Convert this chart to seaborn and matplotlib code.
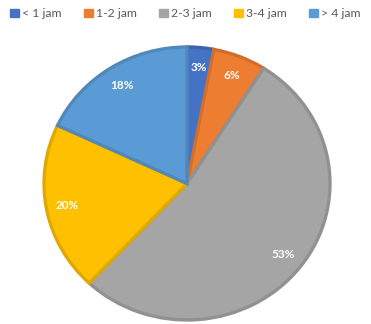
import matplotlib
matplotlib.use("Agg")
import matplotlib.pyplot as plt
import seaborn as sns
from matplotlib.patches import Patch
from matplotlib.colors import to_rgb

categories = ["< 1 jam", "1-2 jam", "2-3 jam", "3-4 jam", "> 4 jam"]
values = [3, 6, 53, 20, 18]
hex_colors = ["#4472C4", "#ED7D31", "#A5A5A5", "#FFC000", "#5B9BD5"]

sns.set_theme(style="white")
plt.rcParams['font.family'] = ['Lato', 'DejaVu Sans']

colors = sns.color_palette(hex_colors)
edges = [tuple(c * 0.88 for c in to_rgb(col)) for col in colors]

fig = plt.figure(figsize=(3.71, 3.24), dpi=100)
W, H = 371, 324
ax = fig.add_axes([44 / W, (H - 320) / H, (330 - 44) / W, (320 - 47) / H])

wedges, texts, autotexts = ax.pie(
    values, colors=colors, startangle=90, counterclock=False,
    autopct=lambda p: f"{p:.0f}%", pctdistance=0.85,
    wedgeprops=dict(linewidth=2.4), textprops=dict(color="white", fontsize=8.5, fontweight="bold"))
for w, e in zip(wedges, edges):
    w.set_edgecolor(e)
ax.set_aspect('auto')
ax.set_xlim(-1.0, 1.0)
ax.set_ylim(-1.0, 1.0)
ax.axis('off')

handles = [Patch(facecolor=c, edgecolor=c) for c in colors]
fig.legend(handles, categories, loc="upper center", bbox_to_anchor=(0.5, 1.008),
           ncol=5, frameon=False, fontsize=8.8, handlelength=0.7, handleheight=0.7,
           handletextpad=0.3, columnspacing=1.8, labelcolor="#595959")

fig.savefig("out.png", dpi=100)
